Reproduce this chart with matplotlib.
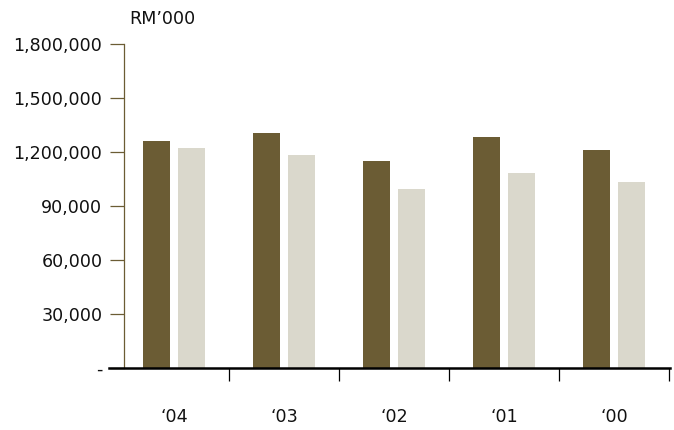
import numpy as np
import matplotlib
matplotlib.use("Agg")
import matplotlib.pyplot as plt

plt.rcParams["font.family"] = ["DejaVu Sans"]

years = ["\u201804", "\u201803", "\u201802", "\u201801", "\u201800"]
series_dark = [1259000, 1309000, 1153000, 1286000, 1211000]
series_light = [1225000, 1182000, 996000, 1083000, 1031000]
ytick_values = [0, 300000, 600000, 900000, 1200000, 1500000, 1800000]
ytick_labels = ["-", "30,000", "60,000", "90,000", "1,200,000", "1,500,000", "1,800,000"]
unit_label = "RM\u2019000"

DARK = "#6b5c34"
LIGHT = "#dad8cc"
OLIVE = "#6b5c34"
FS = 12.6

fig = plt.figure(figsize=(6.74, 4.30), dpi=100)
ax = fig.add_axes([109 / 674, (430 - 367.7) / 430, 561 / 674, (367.7 - 44.3) / 430])

x = np.arange(len(years))
w = 0.245
off = 0.16
ax.bar(x - off, series_dark, width=w, color=DARK, zorder=2)
ax.bar(x + off, series_light, width=w, color=LIGHT, zorder=2)

ax.set_xlim(-0.591, 4.509)
ax.set_ylim(0, 1800000)

for s in ["top", "right"]:
    ax.spines[s].set_visible(False)
ax.spines["left"].set_position(("data", -0.4545))
ax.spines["left"].set_color(OLIVE)
ax.spines["left"].set_linewidth(0.9)
ax.spines["bottom"].set_color("black")
ax.spines["bottom"].set_linewidth(1.8)
ax.spines["bottom"].set_zorder(3)

ax.set_yticks(ytick_values)
ax.set_yticklabels(ytick_labels, fontsize=FS, color="#111111")
ax.tick_params(axis="y", direction="out", length=10, width=0.9, color=OLIVE, pad=5.5)

# category separators as major ticks, year labels on minor ticks
ax.set_xticks(np.arange(len(years)) + 0.5)
ax.set_xticklabels([])
ax.tick_params(axis="x", which="major", direction="out", length=9.5, width=0.9, color="black")
ax.set_xticks(x, minor=True)
ax.set_xticklabels(years, minor=True, fontsize=FS, color="#111111")
ax.tick_params(axis="x", which="minor", length=0, pad=29)

fig.text(129 / 674, 1 - 19 / 430, unit_label, fontsize=FS, color="#111111",
         ha="left", va="center")

fig.savefig("out.png", dpi=100)
